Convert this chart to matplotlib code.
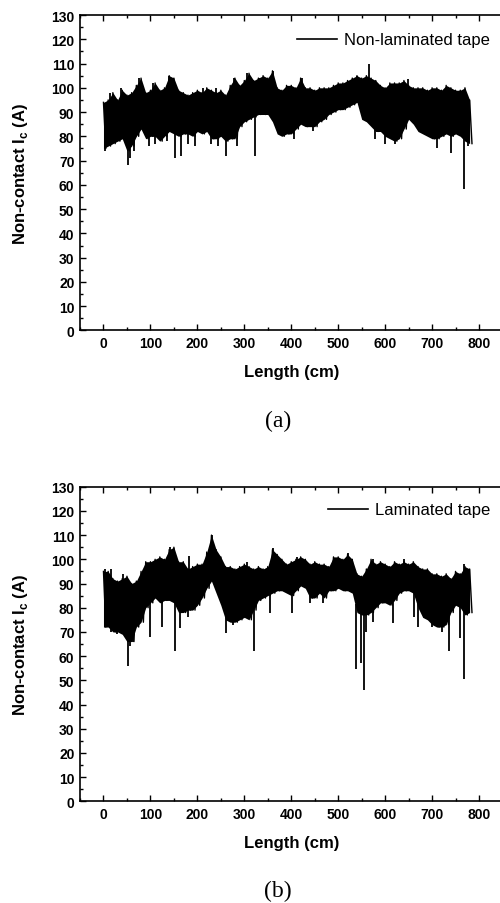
import numpy as np
import matplotlib
matplotlib.use("Agg")
import matplotlib.pyplot as plt
from matplotlib.lines import Line2D
from matplotlib.ticker import MultipleLocator

plt.rcParams['font.family'] = ['Liberation Sans', 'DejaVu Sans']
plt.rcParams['mathtext.fontset'] = 'custom'
plt.rcParams['mathtext.rm'] = 'Liberation Sans:bold'
plt.rcParams['mathtext.bf'] = 'Liberation Sans:bold'

# sampling grid of the read-off envelopes (cm)
length_cm = np.arange(0, 781, 10)

# (a) non-laminated tape: upper / lower edge of the noisy trace
upper_a = [94, 95, 98, 95, 99, 97, 98, 101, 104, 98,
           99, 102, 99, 100, 105, 104, 99, 98, 97, 98,
           99, 98, 100, 99, 98, 99, 97, 101, 104, 101,
           103, 106, 103, 104, 105, 104, 107, 100, 99, 101,
           101, 100, 104, 100, 100, 99, 100, 100, 100, 101,
           102, 102, 103, 104, 105, 104, 105, 104, 103, 101,
           100, 102, 102, 102, 103, 101, 100, 100, 100, 99,
           100, 100, 99, 101, 100, 99, 99, 100, 95]
lower_a = [75, 76, 77, 78, 79, 74, 76, 80, 83, 79,
           80, 80, 78, 80, 82, 81, 80, 81, 81, 80,
           82, 81, 82, 79, 79, 80, 78, 79, 79, 84,
           86, 87, 88, 89, 89, 89, 86, 81, 80, 81,
           81, 83, 85, 84, 84, 84, 86, 87, 89, 90,
           91, 91, 92, 93, 94, 87, 86, 84, 82, 82,
           80, 79, 78, 79, 83, 87, 85, 82, 81, 80,
           79, 79, 80, 81, 80, 81, 80, 78, 77]
dip_x_a = [3, 52, 56, 65, 98, 110, 135, 152, 165, 180, 195, 230, 245, 262,
           285, 323, 406, 447, 578, 600, 621, 710, 741, 767, 776]
dip_y_a = [74, 68, 71, 74, 76, 77, 78, 71, 72, 77, 76, 77, 76, 72,
           76, 72, 79, 82, 79, 77, 77, 75, 73, 58.5, 76]
peak_x_a = [14, 38, 76, 106, 139, 148, 211, 239, 278, 305, 331, 361, 422, 541, 566, 648]
peak_y_a = [98, 100, 104, 102, 105, 104, 100, 100, 104, 106, 104, 107, 104, 105, 110, 103.5]

# (b) laminated tape
upper_b = [95, 95, 92, 91, 92, 93, 90, 91, 95, 99,
           99, 100, 101, 100, 104, 105, 99, 99, 96, 97,
           98, 98, 103, 110, 104, 101, 97, 97, 96, 97,
           98, 97, 96, 97, 96, 97, 104, 102, 100, 98,
           99, 100, 101, 100, 98, 99, 98, 98, 97, 101,
           101, 100, 102, 100, 94, 93, 96, 100, 98, 99,
           98, 97, 99, 98, 99, 98, 99, 97, 96, 96,
           94, 94, 93, 94, 92, 95, 94, 97, 96]
lower_b = [72, 72, 70, 70, 69, 66, 66, 72, 74, 80,
           82, 84, 82, 83, 83, 82, 78, 78, 79, 79,
           81, 84, 88, 91, 86, 81, 75, 74, 74, 75,
           76, 75, 79, 83, 84, 85, 86, 87, 87, 86,
           85, 87, 89, 88, 84, 84, 86, 84, 87, 87,
           88, 87, 87, 86, 78, 77, 77, 78, 80, 82,
           82, 81, 83, 86, 87, 87, 86, 80, 76, 75,
           73, 72, 72, 73, 78, 81, 80, 77, 78]
dip_x_b = [3, 15, 28, 40, 52, 57, 63, 99, 124, 152, 164, 181, 261, 275,
           320, 355, 401, 440, 468, 538, 548, 555, 560, 575, 616, 662, 669,
           700, 722, 736, 760, 767]
dip_y_b = [72, 70, 69, 69, 56, 64, 66, 68, 72, 62, 71.5, 76, 69.5, 73,
           62, 78, 78, 82, 82, 54.5, 57, 46, 70, 74, 73.5, 76, 72,
           72, 70, 62, 67.5, 50.5]
peak_x_b = [4, 16, 42, 142, 183, 232, 305, 362, 412, 520, 575, 640, 768]
peak_y_b = [96, 96, 94, 105, 101.5, 110, 99, 104.5, 101, 102.5, 100, 100, 98]

panels = [
    ("Non-laminated tape", "(a)", upper_a, lower_a, dip_x_a, dip_y_a, peak_x_a, peak_y_a),
    ("Laminated tape", "(b)", upper_b, lower_b, dip_x_b, dip_y_b, peak_x_b, peak_y_b),
]

fig = plt.figure(figsize=(5.0, 9.04), dpi=100)
axes_rects = [[0.16, 0.6333, 0.845, 0.349], [0.16, 0.1125, 0.845, 0.348]]
legend_y = [0.921, 0.926]
caption_y = [1 - 421.7 / 904, 1 - 891.7 / 904]

for i, (name, cap, up, lo, dx, dy, px, py) in enumerate(panels):
    ax = fig.add_axes(axes_rects[i])
    up = np.array(up, dtype=float)
    lo = np.array(lo, dtype=float)

    # the noisy trace: solid band between the edges plus a zig-zag for texture
    ax.fill_between(length_cm, lo, up, color='black', lw=0)
    zig_x = np.column_stack([length_cm, length_cm + 5]).ravel()
    zig_y = np.column_stack([up, lo]).ravel()
    ax.plot(zig_x, zig_y, color='black', lw=1.0)
    ax.vlines(dx, dy, np.interp(dx, length_cm, lo) + 2, color='black', lw=1.3)
    ax.vlines(px, np.interp(px, length_cm, up) - 2, py, color='black', lw=1.3)

    ax.set_xlim(-50, 850)
    ax.set_ylim(0, 130)
    ax.xaxis.set_major_locator(MultipleLocator(100))
    ax.xaxis.set_minor_locator(MultipleLocator(50))
    ax.yaxis.set_major_locator(MultipleLocator(10))
    ax.yaxis.set_minor_locator(MultipleLocator(5))
    ax.tick_params(which='both', direction='in', top=True, right=False, width=1.0)
    ax.tick_params(which='major', length=4.5, labelsize=10, pad=4)
    ax.tick_params(which='minor', length=2.5)
    for lab in ax.get_xticklabels() + ax.get_yticklabels():
        lab.set_fontweight('bold')
    for sp in ax.spines.values():
        sp.set_linewidth(1.2)

    ax.set_xlabel('Length (cm)', fontsize=12, fontweight='bold', labelpad=10)
    ax.set_ylabel(r'Non-contact I$_{\mathbf{c}}$ (A)', fontsize=12,
                  fontweight='bold', labelpad=15)

    handle = Line2D([], [], color='black', lw=1.2)
    ax.legend(handles=[handle], labels=[name], loc='center right',
              bbox_to_anchor=(0.97, legend_y[i]), frameon=False, fontsize=12,
              handlelength=2.4, handletextpad=0.4, borderpad=0, borderaxespad=0)

    fig.text(0.556, caption_y[i], cap, fontsize=17, family='Liberation Serif',
             ha='center', va='center')

fig.savefig('out.png', dpi=100)
